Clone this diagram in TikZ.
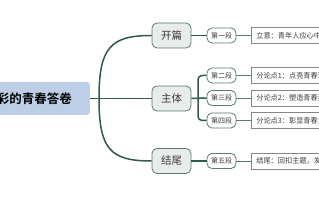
\documentclass[tikz,border=0pt]{standalone}
\usepackage{fontspec}
\newfontfamily\cjk{Noto Sans CJK SC}
\newfontfamily\cjkb{Noto Sans CJK SC Bold}
\definecolor{rootfill}{HTML}{BCCFE6}
\definecolor{lonefill}{HTML}{E8ECEB}
\definecolor{edgecol}{HTML}{5A7A72}
\definecolor{linkcol}{HTML}{2E5A52}
\definecolor{txtcol}{HTML}{3A3A3A}
\definecolor{boxgray}{HTML}{7E8A87}
\tikzset{
  rootbox/.style={fill=rootfill, rounded corners=3pt, inner sep=0pt, font=\cjkb\fontsize{12.5}{14}\selectfont, text=black},
  lonebox/.style={draw=edgecol, fill=lonefill, rounded corners=5pt, line width=0.8pt, minimum width=39pt, minimum height=25pt, inner sep=0pt, font=\cjk\fontsize{10.5}{12}\selectfont, text=txtcol},
  ltwobox/.style={draw=edgecol, fill=white, rounded corners=5pt, line width=0.8pt, minimum width=29pt, minimum height=15pt, inner sep=0pt, font=\cjk\fontsize{7}{8}\selectfont, text=txtcol},
  txtbox/.style={draw=boxgray, fill=white, line width=0.6pt, anchor=west, minimum height=16pt, minimum width=90pt, inner xsep=5pt, inner ysep=0pt, align=left, text width=80pt, font=\cjk\fontsize{7.2}{8}\selectfont, text=txtcol},
  thick link/.style={draw=linkcol, line width=1.5pt},
  thin link/.style={draw=edgecol, line width=0.7pt},
}
\begin{document}
\begin{tikzpicture}[x=1pt,y=-1pt]
\useasboundingbox (0,0) rectangle (319,200);
\clip (0,0) rectangle (319,200);
\fill[white] (0,0) rectangle (319,200);
% root
\node[rootbox, anchor=east, minimum width=150pt, minimum height=33pt, text width=114pt, align=right, inner xsep=18pt] (root) at (90,98.5) {彩的青春答卷};
% level 1
\node[lonebox] (kp) at (171.5,35.5) {开篇};
\node[lonebox] (zt) at (171.5,98.5) {主体};
\node[lonebox] (jw) at (171.5,161) {结尾};
% level 2
\node[ltwobox] (d1) at (221.5,35.5) {第一段};
\node[ltwobox] (d2) at (221.5,75.5) {第二段};
\node[ltwobox] (d3) at (221.5,98) {第三段};
\node[ltwobox] (d4) at (221.5,120.5) {第四段};
\node[ltwobox] (d5) at (221.5,161) {第五段};
% text boxes
\node[txtbox] (t1) at (251,35.5) {立意：青年人应心中有梦};
\node[txtbox] (t2) at (251,75.5) {分论点1：点亮青春理想};
\node[txtbox] (t3) at (251,98) {分论点2：塑造青春姿态};
\node[txtbox] (t4) at (251,120.5) {分论点3：彰显青春力量};
\node[txtbox] (t5) at (251,161) {结尾：回扣主题，发出号召};
% root connectors
\coordinate (br) at (99,98.5);
\draw[thick link] (root.east) -- (br);
\draw[thick link] (br) .. controls (99,48) and (110,35.5) .. (kp.west);
\draw[thick link] (br) -- (zt.west);
\draw[thick link] (br) .. controls (99,149) and (110,161) .. (jw.west);
% level1 to level2
\draw[thick link] (kp.east) -- (d1.west);
\draw[thick link] (jw.east) -- (d5.west);
\coordinate (zb) at (198,98.5);
\draw[thick link] (zt.east) -- (d3.west);
\draw[thick link, rounded corners=4pt] (zb) |- (d2.west);
\draw[thick link, rounded corners=4pt] (zb) |- (d4.west);
% level2 to text
\foreach \a/\b in {d1/t1,d2/t2,d3/t3,d4/t4,d5/t5}
  \draw[thin link] (\a.east) -- (\b.west);
\end{tikzpicture}
\end{document}
